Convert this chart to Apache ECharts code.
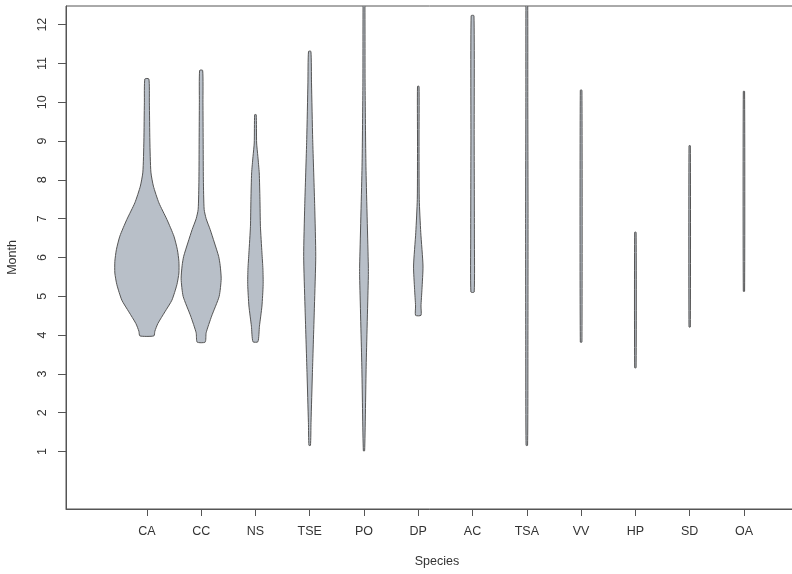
<!DOCTYPE html>
<html>
<head>
<meta charset="utf-8">
<script src="https://cdn.jsdelivr.net/npm/echarts@6/dist/echarts.min.js"></script>
<style>
  html, body { margin: 0; padding: 0; background: #fff; }
  #chart { width: 792px; height: 574px; }
</style>
</head>
<body>
<div id="chart"></div>
<script>
// Espèces (axe X)
const species = ['CA', 'CC', 'NS', 'TSE', 'PO', 'DP', 'AC', 'TSA', 'VV', 'HP', 'SD', 'OA'];

// Graduations de l'axe Y (mois)
const monthTicks = [1, 2, 3, 4, 5, 6, 7, 8, 9, 10, 11, 12];

// Profils des violons : [mois, demi-largeur de densité]
const violinCA = [[3.98, 0.129], [4.1, 0.147], [4.3, 0.203], [4.6, 0.332], [4.9, 0.461], [5.3, 0.553], [5.6, 0.59], [5.9, 0.59], [6.2, 0.562], [6.55, 0.498], [6.98, 0.369], [7.41, 0.221], [7.84, 0.12], [8.2, 0.074], [9.0, 0.055], [10.0, 0.046], [10.6, 0.037]];
const violinCC = [[3.82, 0.074], [4.06, 0.092], [4.49, 0.193], [5.0, 0.332], [5.45, 0.369], [5.8, 0.35], [6.03, 0.322], [6.4, 0.24], [6.72, 0.166], [7.0, 0.092], [7.24, 0.055], [8.0, 0.041], [9.0, 0.037], [10.0, 0.033], [10.82, 0.028]];
const violinNS = [[3.83, 0.046], [4.23, 0.074], [4.75, 0.12], [5.3, 0.142], [5.7, 0.138], [6.12, 0.12], [6.8, 0.092], [7.5, 0.083], [8.18, 0.07], [8.6, 0.045], [8.95, 0.022], [9.68, 0.014]];
const violinTSE = [[1.16, 0.014], [1.75, 0.024], [3.04, 0.05], [4.75, 0.087], [6.03, 0.111], [7.32, 0.092], [9.04, 0.055], [10.5, 0.033], [11.31, 0.022]];
const violinPO = [[1.02, 0.012], [3.2, 0.04], [5.5, 0.08], [5.78, 0.08], [8.35, 0.036], [10.5, 0.02], [13.0, 0.014]];
const violinDP = [[4.51, 0.05], [4.75, 0.05], [5.18, 0.068], [5.78, 0.087], [6.64, 0.046], [7.5, 0.018], [9.0, 0.014], [10.41, 0.014]];
const violinAC = [[5.11, 0.03], [6.5, 0.034], [9.0, 0.03], [12.23, 0.026]];
const violinTSA = [[1.16, 0.014], [4.0, 0.02], [7.0, 0.022], [10.0, 0.018], [13.0, 0.014]];
const violinVV = [[3.82, 0.015], [10.31, 0.015]];
const violinHP = [[3.16, 0.013], [6.65, 0.013]];
const violinSD = [[4.21, 0.012], [8.88, 0.012]];
const violinOA = [[5.13, 0.012], [10.28, 0.012]];

const violins = [violinCA, violinCC, violinNS, violinTSE, violinPO, violinDP,
                 violinAC, violinTSA, violinVV, violinHP, violinSD, violinOA];

const textColor = '#333';
const lineColor = '#555';
const font = '"Liberation Sans", Arial, Helvetica, sans-serif';

// Dessine un violon : côté droit en montant, côté gauche en descendant
function renderViolin(params, api) {
    const pos = api.value(0);
    const profile = violins[params.dataIndex];
    const right = profile.map(p => api.coord([pos + p[1], p[0]]));
    const left = profile.slice().reverse().map(p => api.coord([pos - p[1], p[0]]));
    return {
        type: 'polygon',
        shape: { points: right.concat(left), smooth: 0.2 },
        style: { fill: '#b8bfc8', stroke: lineColor, lineWidth: 1 }
    };
}

const chart = echarts.init(document.getElementById('chart'));
chart.setOption({
    animation: false,
    backgroundColor: '#fff',
    grid: {
        left: 66, top: 6, width: 742, height: 503,
        outerBoundsMode: 'none',
        show: true, borderColor: lineColor, borderWidth: 1
    },
    xAxis: {
        type: 'value',
        min: -0.49, max: 13.18,
        name: 'Species',
        nameLocation: 'middle',
        nameGap: 46,
        nameTextStyle: { color: textColor, fontSize: 12.5, fontFamily: font },
        axisLine: { show: true, onZero: false, lineStyle: { color: lineColor } },
        axisTick: { show: true, length: 7, customValues: species.map((s, i) => i + 1), lineStyle: { color: lineColor } },
        axisLabel: {
            customValues: species.map((s, i) => i + 1),
            formatter: v => species[Math.round(v) - 1] || '',
            color: textColor, fontSize: 12.5, fontFamily: font, margin: 16
        },
        splitLine: { show: false }
    },
    yAxis: {
        type: 'value',
        min: -0.48, max: 12.48,
        name: 'Month',
        nameLocation: 'middle',
        nameGap: 47,
        nameRotate: 90,
        nameTextStyle: { color: textColor, fontSize: 12.5, fontFamily: font },
        axisLine: { show: true, onZero: false, lineStyle: { color: lineColor } },
        axisTick: { show: true, length: 8, customValues: monthTicks, lineStyle: { color: lineColor } },
        axisLabel: {
            customValues: monthTicks,
            rotate: 90,
            color: textColor, fontSize: 12.5, fontFamily: font, margin: 17
        },
        splitLine: { show: false }
    },
    series: [{
        type: 'custom',
        clip: true,
        renderItem: renderViolin,
        data: species.map((s, i) => [i + 1])
    }]
});
</script>
</body>
</html>
